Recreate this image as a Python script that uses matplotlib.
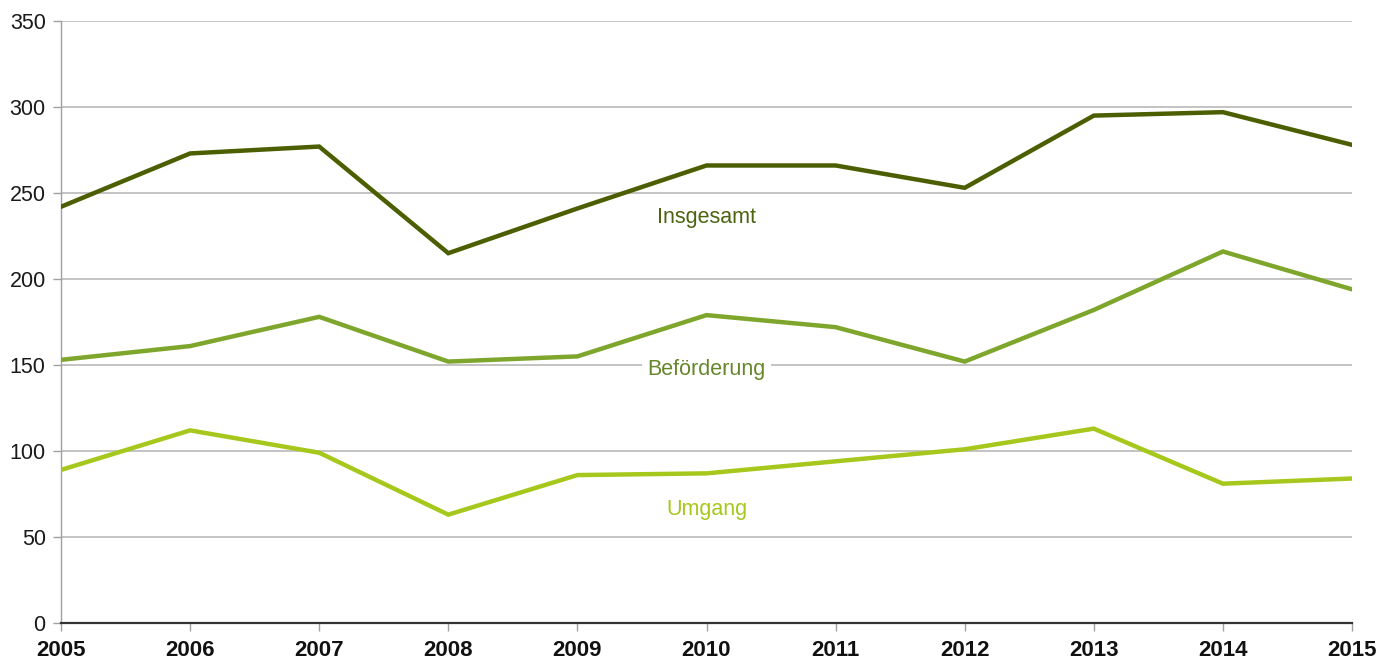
import matplotlib
matplotlib.use("Agg")
import matplotlib.pyplot as plt

plt.rcParams['font.family'] = ['Liberation Sans', 'DejaVu Sans']

years = [2005, 2006, 2007, 2008, 2009, 2010, 2011, 2012, 2013, 2014, 2015]
insgesamt = [242, 273, 277, 215, 241, 266, 266, 253, 295, 297, 278]
befoerderung = [153, 161, 178, 152, 155, 179, 172, 152, 182, 216, 194]
umgang = [89, 112, 99, 63, 86, 87, 94, 101, 113, 81, 84]
yticks = [0, 50, 100, 150, 200, 250, 300, 350]

c_ins = '#4b5f00'
c_bef = '#7ea62c'
c_umg = '#a6c81c'

fig = plt.figure(figsize=(13.79, 6.6), dpi=100)
ax = fig.add_axes([61/1379, 37/660, (1352-61)/1379, (623-21)/660])

for y in yticks[1:]:
    ax.axhline(y, color='#b3b3b3', lw=1.1, zorder=1)

ax.plot(years, insgesamt, color=c_ins, lw=3.2, zorder=3, solid_joinstyle='miter')
ax.plot(years, befoerderung, color=c_bef, lw=3.2, zorder=3, solid_joinstyle='miter')
ax.plot(years, umgang, color=c_umg, lw=3.2, zorder=3, solid_joinstyle='miter')

ax.text(2010, 236, 'Insgesamt', color='#4e6310', fontsize=15.5, ha='center', va='center', zorder=4)
ax.text(2010, 147.5, 'Beförderung', color='#66862a', fontsize=15.5, ha='center', va='center', zorder=4,
        bbox=dict(facecolor='white', edgecolor='none', pad=4))
ax.text(2010, 66, 'Umgang', color='#a6c81c', fontsize=15.5, ha='center', va='center', zorder=4)

ax.set_xlim(2005, 2015)
ax.set_ylim(0, 350)
ax.set_xticks(years)
ax.set_xticklabels([str(y) for y in years], fontweight='bold', fontsize=16)
ax.set_yticks(yticks)
ax.set_yticklabels([str(y) for y in yticks], fontsize=15.5)

for s in ['top', 'right']:
    ax.spines[s].set_visible(False)
ax.spines['left'].set_color('#a0a0a0')
ax.spines['left'].set_linewidth(1)
ax.spines['bottom'].set_color('#333333')
ax.spines['bottom'].set_linewidth(1.6)
ax.tick_params(axis='y', length=6, color='#a0a0a0', width=1, pad=5, labelcolor='#1a1a1a')
ax.tick_params(axis='x', length=6, color='#a0a0a0', width=1, pad=6.5, labelcolor='#111111')

fig.savefig('out.png', dpi=100, facecolor='white')
